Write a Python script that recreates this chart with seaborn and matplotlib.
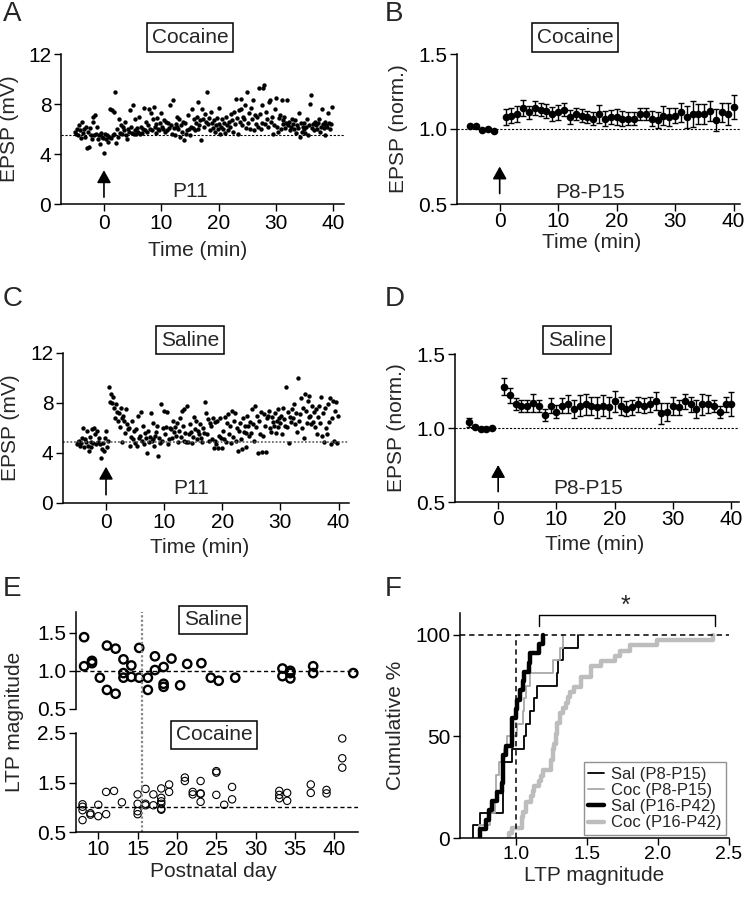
import numpy as np
import pandas as pd
import seaborn as sns
import matplotlib.pyplot as plt

sns.set_style('ticks')
plt.rcParams['font.family'] = ['Liberation Sans', 'DejaVu Sans']
plt.rcParams['xtick.major.size'] = 5
plt.rcParams['ytick.major.size'] = 5
plt.rcParams['xtick.major.width'] = 1
plt.rcParams['ytick.major.width'] = 1
plt.rcParams['axes.linewidth'] = 1.1
plt.rcParams['xtick.color'] = 'black'
plt.rcParams['ytick.color'] = 'black'
plt.rcParams['axes.edgecolor'] = 'black'

FS = 15

# ---- A: cocaine P11, EPSP (mV), 6 samples per minute, minutes -5..39
coc_p11 = [
    [5.8, 5.6, 6.0, 5.5, 6.3, 5.9], [5.3, 6.6, 5.7, 6.0, 5.4, 6.2],
    [4.5, 5.8, 4.6, 6.1, 5.5, 5.2], [7.0, 6.6, 5.5, 7.1, 5.6, 6.2],
    [5.2, 5.5, 4.8, 5.7, 5.4, 5.3], [4.1, 5.6, 5.2, 5.5, 5.0, 5.4],
    [7.6, 5.3, 7.5, 5.5, 7.4, 5.6], [9.0, 4.9, 6.0, 5.4, 6.8, 5.7],
    [6.3, 5.6, 6.2, 5.9, 6.6, 5.5], [5.2, 6.0, 5.8, 7.5, 6.2, 5.7],
    [7.9, 5.6, 6.8, 5.9, 5.6, 6.1], [5.8, 7.0, 5.6, 6.2, 5.7, 6.0],
    [7.7, 5.9, 6.6, 5.8, 6.3, 7.6], [6.0, 7.3, 5.9, 6.8, 7.8, 6.2],
    [5.7, 6.4, 6.9, 6.0, 5.9, 6.5], [7.3, 6.2, 6.0, 6.7, 5.8, 6.6],
    [5.9, 6.5, 6.1, 7.9, 6.3, 5.6], [8.3, 6.1, 5.5, 6.4, 7.0, 6.2],
    [6.0, 6.8, 5.4, 6.3, 5.8, 6.6], [5.1, 6.5, 5.6, 5.9, 7.1, 6.0],
    [5.5, 6.2, 7.6, 6.1, 6.8, 5.9], [6.5, 7.0, 6.0, 8.2, 6.3, 6.7],
    [5.1, 7.6, 6.8, 6.2, 7.2, 6.6], [9.0, 6.4, 6.9, 5.9, 7.4, 6.5],
    [6.1, 6.7, 5.8, 6.3, 6.9, 6.0], [7.7, 6.4, 5.6, 6.2, 6.8, 6.0],
    [6.5, 5.7, 7.0, 6.3, 5.9, 6.6], [6.2, 7.2, 6.7, 5.8, 7.4, 6.4],
    [8.4, 6.9, 5.6, 7.5, 6.6, 8.4], [7.6, 6.3, 7.0, 6.8, 7.9, 6.1],
    [9.0, 6.5, 7.3, 6.0, 7.7, 6.8], [8.3, 5.9, 7.1, 6.4, 7.0, 6.2],
    [9.3, 7.2, 6.0, 7.9, 6.5, 9.3], [9.5, 6.4, 7.4, 6.8, 6.2, 8.2],
    [8.3, 6.6, 7.0, 5.6, 6.3, 7.6], [8.5, 6.2, 5.8, 6.9, 7.1, 6.0],
    [8.3, 6.7, 6.4, 7.0, 6.1, 6.5], [8.3, 6.3, 6.6, 5.9, 6.2, 6.8],
    [6.4, 6.0, 6.7, 5.7, 6.3, 6.1], [7.3, 5.4, 6.5, 5.8, 6.2, 6.0],
    [6.5, 5.7, 6.2, 6.8, 5.5, 6.3], [8.0, 8.7, 6.1, 6.4, 5.9, 6.6],
    [6.3, 6.0, 6.5, 6.8, 5.8, 6.2], [7.6, 6.4, 6.1, 6.6, 5.5, 6.3],
    [6.2, 7.3, 6.5, 6.0, 6.4, 7.8],
]
# ---- C: saline P11
sal_p11 = [
    [4.7, 4.9, 5.0, 4.6, 4.8, 5.2], [6.0, 4.5, 5.1, 4.9, 5.8, 4.6],
    [4.2, 5.3, 4.9, 4.5, 5.9, 4.8], [6.0, 5.5, 4.7, 5.8, 4.9, 5.2],
    [4.7, 3.6, 4.3, 4.8, 4.2, 5.2], [5.8, 4.5, 5.0, 9.3, 8.1, 8.7],
    [8.0, 8.5, 7.6, 6.8, 7.9, 7.3], [6.6, 7.2, 6.1, 7.6, 4.9, 6.8],
    [7.0, 6.6, 5.6, 7.5, 6.3, 5.9], [6.0, 4.6, 5.3, 6.6, 5.1, 5.8],
    [4.8, 5.9, 4.6, 7.0, 5.2, 5.4], [7.3, 5.0, 6.2, 4.7, 5.6, 5.2],
    [4.0, 5.8, 4.9, 5.3, 7.2, 5.0], [6.4, 5.1, 4.6, 5.4, 5.7, 6.2],
    [3.8, 5.2, 4.8, 7.9, 5.0, 6.0], [7.4, 5.5, 6.1, 7.3, 4.7, 5.1],
    [6.0, 5.9, 5.2, 6.6, 5.7, 6.1], [5.4, 6.4, 4.9, 5.8, 6.8, 5.3],
    [7.4, 6.2, 5.0, 7.5, 5.6, 4.9], [7.8, 4.9, 5.5, 6.3, 5.7, 4.8],
    [5.3, 6.9, 5.9, 6.6, 5.1, 5.8], [5.5, 6.3, 5.2, 4.9, 6.0, 5.6],
    [8.1, 7.2, 5.5, 6.7, 5.0, 6.4], [6.2, 5.1, 6.8, 4.4, 6.5, 5.0],
    [4.7, 6.6, 4.4, 5.4, 6.8, 5.2], [4.4, 5.8, 5.1, 6.9, 4.9, 6.4],
    [7.1, 5.5, 6.2, 4.8, 7.4, 5.3], [6.6, 7.2, 5.0, 6.0, 4.2, 5.8],
    [6.4, 5.1, 4.3, 6.8, 5.7, 6.2], [4.5, 5.6, 7.0, 6.2, 5.4, 6.5],
    [5.6, 7.5, 6.3, 5.0, 7.8, 6.1], [7.0, 4.0, 6.6, 5.5, 7.3, 4.1],
    [5.4, 7.1, 6.2, 4.1, 6.8, 7.0], [7.4, 6.0, 5.7, 6.9, 6.5, 6.2],
    [7.2, 5.6, 6.6, 7.5, 6.1, 6.8], [6.4, 7.0, 5.5, 7.6, 6.7, 6.2],
    [9.3, 6.1, 7.3, 4.8, 6.9, 6.5], [7.5, 6.8, 7.9, 6.3, 7.2, 5.7],
    [10.0, 6.6, 7.1, 8.4, 6.0, 7.6], [5.2, 8.7, 7.4, 6.4, 8.2, 6.9],
    [8.6, 7.0, 6.3, 7.8, 6.5, 7.3], [6.1, 7.5, 5.5, 6.9, 7.8, 6.4],
    [8.5, 5.4, 7.2, 4.9, 7.6, 6.0], [5.5, 7.9, 6.5, 8.4, 4.7, 6.8],
    [8.2, 5.0, 7.4, 8.1, 4.8, 7.0],
]
first_minute = -5

# ---- B / D: normalised EPSP, mean +- sem
norm_time = [-5, -4, -3, -2, -1] + list(range(1, 41))
coc_norm = [1.02, 1.02, 0.995, 1.0, 0.985,
            1.08, 1.09, 1.10, 1.14, 1.11, 1.14, 1.13, 1.12, 1.10, 1.11,
            1.13, 1.08, 1.10, 1.09, 1.08, 1.07, 1.10, 1.07, 1.08, 1.08,
            1.07, 1.07, 1.07, 1.10, 1.10, 1.07, 1.06, 1.09, 1.08, 1.09,
            1.11, 1.08, 1.10, 1.10, 1.10, 1.12, 1.06, 1.11, 1.10, 1.15]
coc_sem = [0.008, 0.008, 0.008, 0.008, 0.008,
           0.055, 0.05, 0.05, 0.055, 0.045, 0.045, 0.045, 0.045, 0.045, 0.05,
           0.045, 0.045, 0.04, 0.04, 0.04, 0.04, 0.06, 0.05, 0.045, 0.05,
           0.05, 0.045, 0.045, 0.04, 0.04, 0.05, 0.055, 0.06, 0.06, 0.05,
           0.06, 0.07, 0.085, 0.065, 0.065, 0.065, 0.07, 0.06, 0.07, 0.08]
sal_norm = [1.04, 1.01, 0.995, 0.995, 1.0,
            1.28, 1.22, 1.16, 1.15, 1.15, 1.17, 1.15, 1.09, 1.15, 1.11,
            1.15, 1.16, 1.13, 1.15, 1.16, 1.15, 1.14, 1.15, 1.14, 1.18,
            1.15, 1.13, 1.14, 1.16, 1.15, 1.16, 1.18, 1.10, 1.11, 1.15,
            1.14, 1.18, 1.16, 1.13, 1.16, 1.16, 1.15, 1.11, 1.16, 1.16]
sal_sem = [0.03, 0.01, 0.01, 0.01, 0.01,
           0.06, 0.05, 0.04, 0.04, 0.04, 0.06, 0.04, 0.04, 0.05, 0.045,
           0.05, 0.06, 0.06, 0.07, 0.07, 0.06, 0.07, 0.07, 0.07, 0.07,
           0.06, 0.05, 0.05, 0.05, 0.05, 0.05, 0.06, 0.07, 0.06, 0.06,
           0.05, 0.05, 0.05, 0.06, 0.07, 0.06, 0.04, 0.04, 0.05, 0.08]

# ---- E: LTP magnitude vs postnatal day
sal_day = [8.2, 8.2, 9.2, 9.2, 10.2, 11.1, 11.1, 12.2, 12.2, 13.2, 13.2, 13.2,
           14.2, 14.2, 15.2, 15.2,
           16.3, 16.3, 17.2, 17.2, 18.3, 18.3, 18.3, 19.3, 20.4, 21.3, 23.1,
           24.3, 25.3, 27.4, 33.4, 33.4, 34.4, 34.4, 34.4, 37.3, 37.3, 42.4]
sal_ltp = [1.44, 1.06, 1.10, 1.13, 0.91, 1.33, 0.75, 1.29, 0.70, 1.15, 0.97, 0.91,
           1.07, 0.92, 1.30, 0.91,
           0.91, 0.75, 1.19, 1.01, 1.05, 0.83, 0.79, 1.16, 0.81, 1.09, 1.10,
           0.91, 0.87, 0.91, 1.03, 0.93, 1.00, 0.90, 0.97, 1.06, 0.97, 0.97]
coc_day = [8, 8, 8, 8, 9, 9, 10, 10, 11, 11, 12, 13, 15, 15, 15, 15,
           16, 16, 16, 17, 17, 18, 18, 18, 18, 18, 18, 19, 19, 21, 21, 22, 22,
           23, 23, 23, 23, 25, 25, 25, 26, 27, 27, 33, 33, 33, 34, 34, 37, 37,
           39, 39, 41, 41, 41]
coc_ltp = [1.06, 1.01, 0.94, 0.74, 0.88, 0.85, 1.05, 0.82, 1.31, 0.86, 1.33, 1.10,
           1.26, 1.07, 0.92, 0.86,
           1.37, 1.07, 1.04, 1.26, 1.04, 1.38, 1.19, 1.12, 1.07, 0.97, 0.95,
           1.46, 1.31, 1.60, 1.53, 1.31, 1.26, 1.53, 1.28, 1.11, 1.27, 1.70,
           1.73, 1.25, 1.05, 1.41, 1.16, 1.33, 1.25, 1.18, 1.29, 1.13, 1.46,
           1.29, 1.35, 1.28, 2.39, 1.99, 1.80]
split_day = 15.6

W, H = 745, 900
fig = plt.figure(figsize=(W / 100, H / 100), dpi=100)


def box(l, t, r, b):
    return fig.add_axes([l / W, 1 - b / H, (r - l) / W, (b - t) / H])


def label_box(ax, x, y, txt):
    ax.text(x, y, txt, transform=ax.transAxes, ha='center', va='center', fontsize=FS,
            bbox=dict(boxstyle='square,pad=0.22', fc='white', ec='black', lw=1.1),
            clip_on=False)


def arrow(ax, y0, y1):
    ax.annotate('', xy=(0, y1), xytext=(0, y0),
                arrowprops=dict(arrowstyle='-|>,head_length=0.75,head_width=0.42',
                                color='black', lw=1.2, mutation_scale=10,
                                shrinkA=0, shrinkB=0))


def set_labels(ax, xl, yl, xpos, ypos):
    ax.set_xlabel(xl, fontsize=FS, va='center')
    ax.set_ylabel(yl, fontsize=FS, va='center')
    ax.xaxis.set_label_coords(*xpos)
    ax.yaxis.set_label_coords(*ypos)


def minute_frame(rows):
    t, v = [], []
    for i, row in enumerate(rows):
        for j, val in enumerate(row):
            t.append(first_minute + i + j / 6)
            v.append(val)
    return pd.DataFrame({'time': t, 'epsp': v})


def raw_panel(ax, rows, base, base_style, xlim, note, note_xy, arr):
    df = minute_frame(rows)
    sns.scatterplot(data=df, x='time', y='epsp', ax=ax, color='black', s=10,
                    linewidth=0, legend=False)
    ax.axhline(base, **base_style)
    ax.set_xlim(*xlim)
    ax.set_ylim(0, 12)
    ax.set_yticks([0, 4, 8, 12])
    ax.set_xticks([0, 10, 20, 30, 40])
    ax.text(note_xy[0], note_xy[1], note, ha='center', va='center', fontsize=FS)
    arrow(ax, *arr)
    ax.tick_params(labelsize=FS, pad=2)


def norm_panel(ax, mean, sem, xlim, note_y, arr):
    df = pd.DataFrame({'time': norm_time, 'epsp': mean, 'sem': sem})
    ax.errorbar(df['time'], df['epsp'], yerr=df['sem'], fmt='none', ecolor='black',
                elinewidth=1, capsize=2, capthick=1)
    sns.scatterplot(data=df, x='time', y='epsp', ax=ax, color='black', s=30,
                    linewidth=0, legend=False, zorder=3)
    ax.axhline(1.0, color='black', lw=0.8, ls=(0, (2, 1.5)))
    ax.set_xlim(*xlim)
    ax.set_ylim(0.5, 1.5)
    ax.set_yticks([0.5, 1.0, 1.5])
    ax.set_xticks([0, 10, 20, 30, 40])
    ax.text(15.5, note_y, 'P8-P15', ha='center', va='center', fontsize=FS)
    arrow(ax, *arr)
    ax.tick_params(axis='y', labelsize=FS, pad=2)
    ax.tick_params(axis='x', labelsize=FS, pad=0.5)


# A
axA = box(61, 54, 344, 204)
raw_panel(axA, coc_p11, 5.5, dict(color='black', lw=0.8, ls=(0, (2, 1.5))),
          (-7.5, 41.9), 'P11', (15, 1.0), (0.55, 2.7))
label_box(axA, 0.456, 1.11, 'Cocaine')
set_labels(axA, 'Time (min)', 'EPSP (mV)', (0.484, -0.313), (-0.182, 0.5))

# B
axB = box(457, 54, 740, 204)
norm_panel(axB, coc_norm, coc_sem, (-7.3, 41.1), 0.575, (0.57, 0.75))
label_box(axB, 0.417, 1.11, 'Cocaine')
set_labels(axB, 'Time (min)', 'EPSP (norm.)', (0.477, -0.26), (-0.208, 0.5))

# C
axC = box(63, 353, 349, 503)
raw_panel(axC, sal_p11, 4.9, dict(color='#555555', lw=1.1, ls=(0, (1.2, 1.2))),
          (-7.4, 41.8), 'P11', (14.7, 1.2), (0.66, 2.9))
label_box(axC, 0.444, 1.084, 'Saline')
set_labels(axC, 'Time (min)', 'EPSP (mV)', (0.479, -0.297), (-0.182, 0.5))

# D
axD = box(455, 354, 739, 502)
norm_panel(axD, sal_norm, sal_sem, (-7.4, 41.3), 0.59, (0.57, 0.75))
label_box(axD, 0.43, 1.094, 'Saline')
set_labels(axD, 'Time (min)', 'EPSP (norm.)', (0.49, -0.288), (-0.206, 0.5))

for ax in (axA, axB, axC, axD):
    sns.despine(ax=ax)

# E
e_xlim = (7.17, 43.0)
axE1 = box(76, 612, 358, 709)
axE2 = box(76, 733, 358, 832)
sal_df = pd.DataFrame({'day': sal_day, 'ltp': sal_ltp})
coc_df = pd.DataFrame({'day': coc_day, 'ltp': coc_ltp})
sns.scatterplot(data=sal_df, x='day', y='ltp', ax=axE1, color='black', facecolor='none',
                edgecolor='black', linewidth=1.7, s=36, legend=False, clip_on=False)
sns.scatterplot(data=coc_df, x='day', y='ltp', ax=axE2, color='black', facecolor='none',
                edgecolor='black', linewidth=0.8, s=28, legend=False, clip_on=False)
for ax in (axE1, axE2):
    ax.axhline(1.0, color='black', lw=1, ls=(0, (3, 2)))
    ax.set_xlim(*e_xlim)
    ax.set_xlabel('')
    ax.set_ylabel('')
    ax.tick_params(labelsize=FS, pad=2)
axE1.set_ylim(0.5, 1.77)
axE1.set_yticks([0.5, 1.0, 1.5])
axE1.set_xticks([])
axE1.spines[['top', 'right', 'bottom']].set_visible(False)
axE1.axvline(split_day, ymin=-0.25, ymax=1, color='#888888', lw=1.6, ls=(0, (1, 1)),
             clip_on=False)
axE2.set_ylim(0.5, 2.5)
axE2.set_yticks([0.5, 1.5, 2.5])
axE2.set_xticks([10, 15, 20, 25, 30, 35, 40])
axE2.spines[['top', 'right']].set_visible(False)
axE2.axvline(split_day, color='#888888', lw=1.6, ls=(0, (1, 1)))
axE2.set_xlabel('Postnatal day', fontsize=FS, va='center')
axE2.xaxis.set_label_coords(0.486, -0.404)
axE2.tick_params(axis='x', pad=1)
label_box(axE1, 0.486, 0.918, 'Saline')
label_box(axE2, 0.489, 0.98, 'Cocaine')
fig.text(15 / W, 1 - 722 / H, 'LTP magnitude', rotation=90, ha='center', va='center',
         fontsize=FS)

# F
axF = box(460, 613, 729, 838)
groups = [
    ('Sal (P8-P15)', [v for d, v in zip(sal_day, sal_ltp) if d < split_day], 'black', 1.3),
    ('Coc (P8-P15)', [v for d, v in zip(coc_day, coc_ltp) if d < split_day], '#a8a8a8', 1.3),
    ('Sal (P16-P42)', [v for d, v in zip(sal_day, sal_ltp) if d > split_day], 'black', 3.2),
    ('Coc (P16-P42)', [v for d, v in zip(coc_day, coc_ltp) if d > split_day], '#bdbdbd', 3.2),
]
for name, vals, col, lw in groups:
    sns.ecdfplot(x=vals, stat='percent', ax=axF, color=col, linewidth=lw, label=name)
for line in axF.get_lines():
    x, y = line.get_data()
    x = np.asarray(x, dtype=float)
    if np.isinf(x[0]):
        x[0] = x[1]
        line.set_data(x, y)
axF.plot([1.0, 1.0], [0, 100], color='black', lw=1.1, ls=(0, (3.5, 2.5)))
axF.axhline(100, color='black', lw=1.1, ls=(0, (3.5, 2.5)))
axF.set_xlim(0.607, 2.5)
axF.set_ylim(0, 110.8)
axF.set_xticks([1.0, 1.5, 2.0, 2.5])
axF.set_yticks([0, 50, 100])
set_labels(axF, 'LTP magnitude', 'Cumulative %', (0.50, -0.168), (-0.238, 0.5))
axF.tick_params(axis='y', labelsize=FS, pad=2)
axF.tick_params(axis='x', labelsize=14, pad=0.5)
sns.despine(ax=axF)
axF.plot([1.16, 1.16, 2.40, 2.40], [104.5, 109.8, 109.8, 104.5], color='black', lw=1,
         clip_on=False)
axF.text(1.77, 114.5, '*', ha='center', va='center', fontsize=18, clip_on=False)
leg = axF.legend(loc='lower right', fontsize=12, frameon=True, fancybox=False,
                 edgecolor='#777777', handlelength=1.0, handletextpad=0.4,
                 borderpad=0.25, labelspacing=0.08, borderaxespad=0.2)
leg.get_frame().set_linewidth(1)

# panel letters
for letter, x, y in [('A', 3, 1), ('B', 385, 1), ('C', 3, 286), ('D', 385, 286),
                     ('E', 3, 576), ('F', 385, 576)]:
    fig.text(x / W, 1 - y / H, letter, fontsize=20, ha='left', va='top')

fig.savefig('out.png', dpi=100)
